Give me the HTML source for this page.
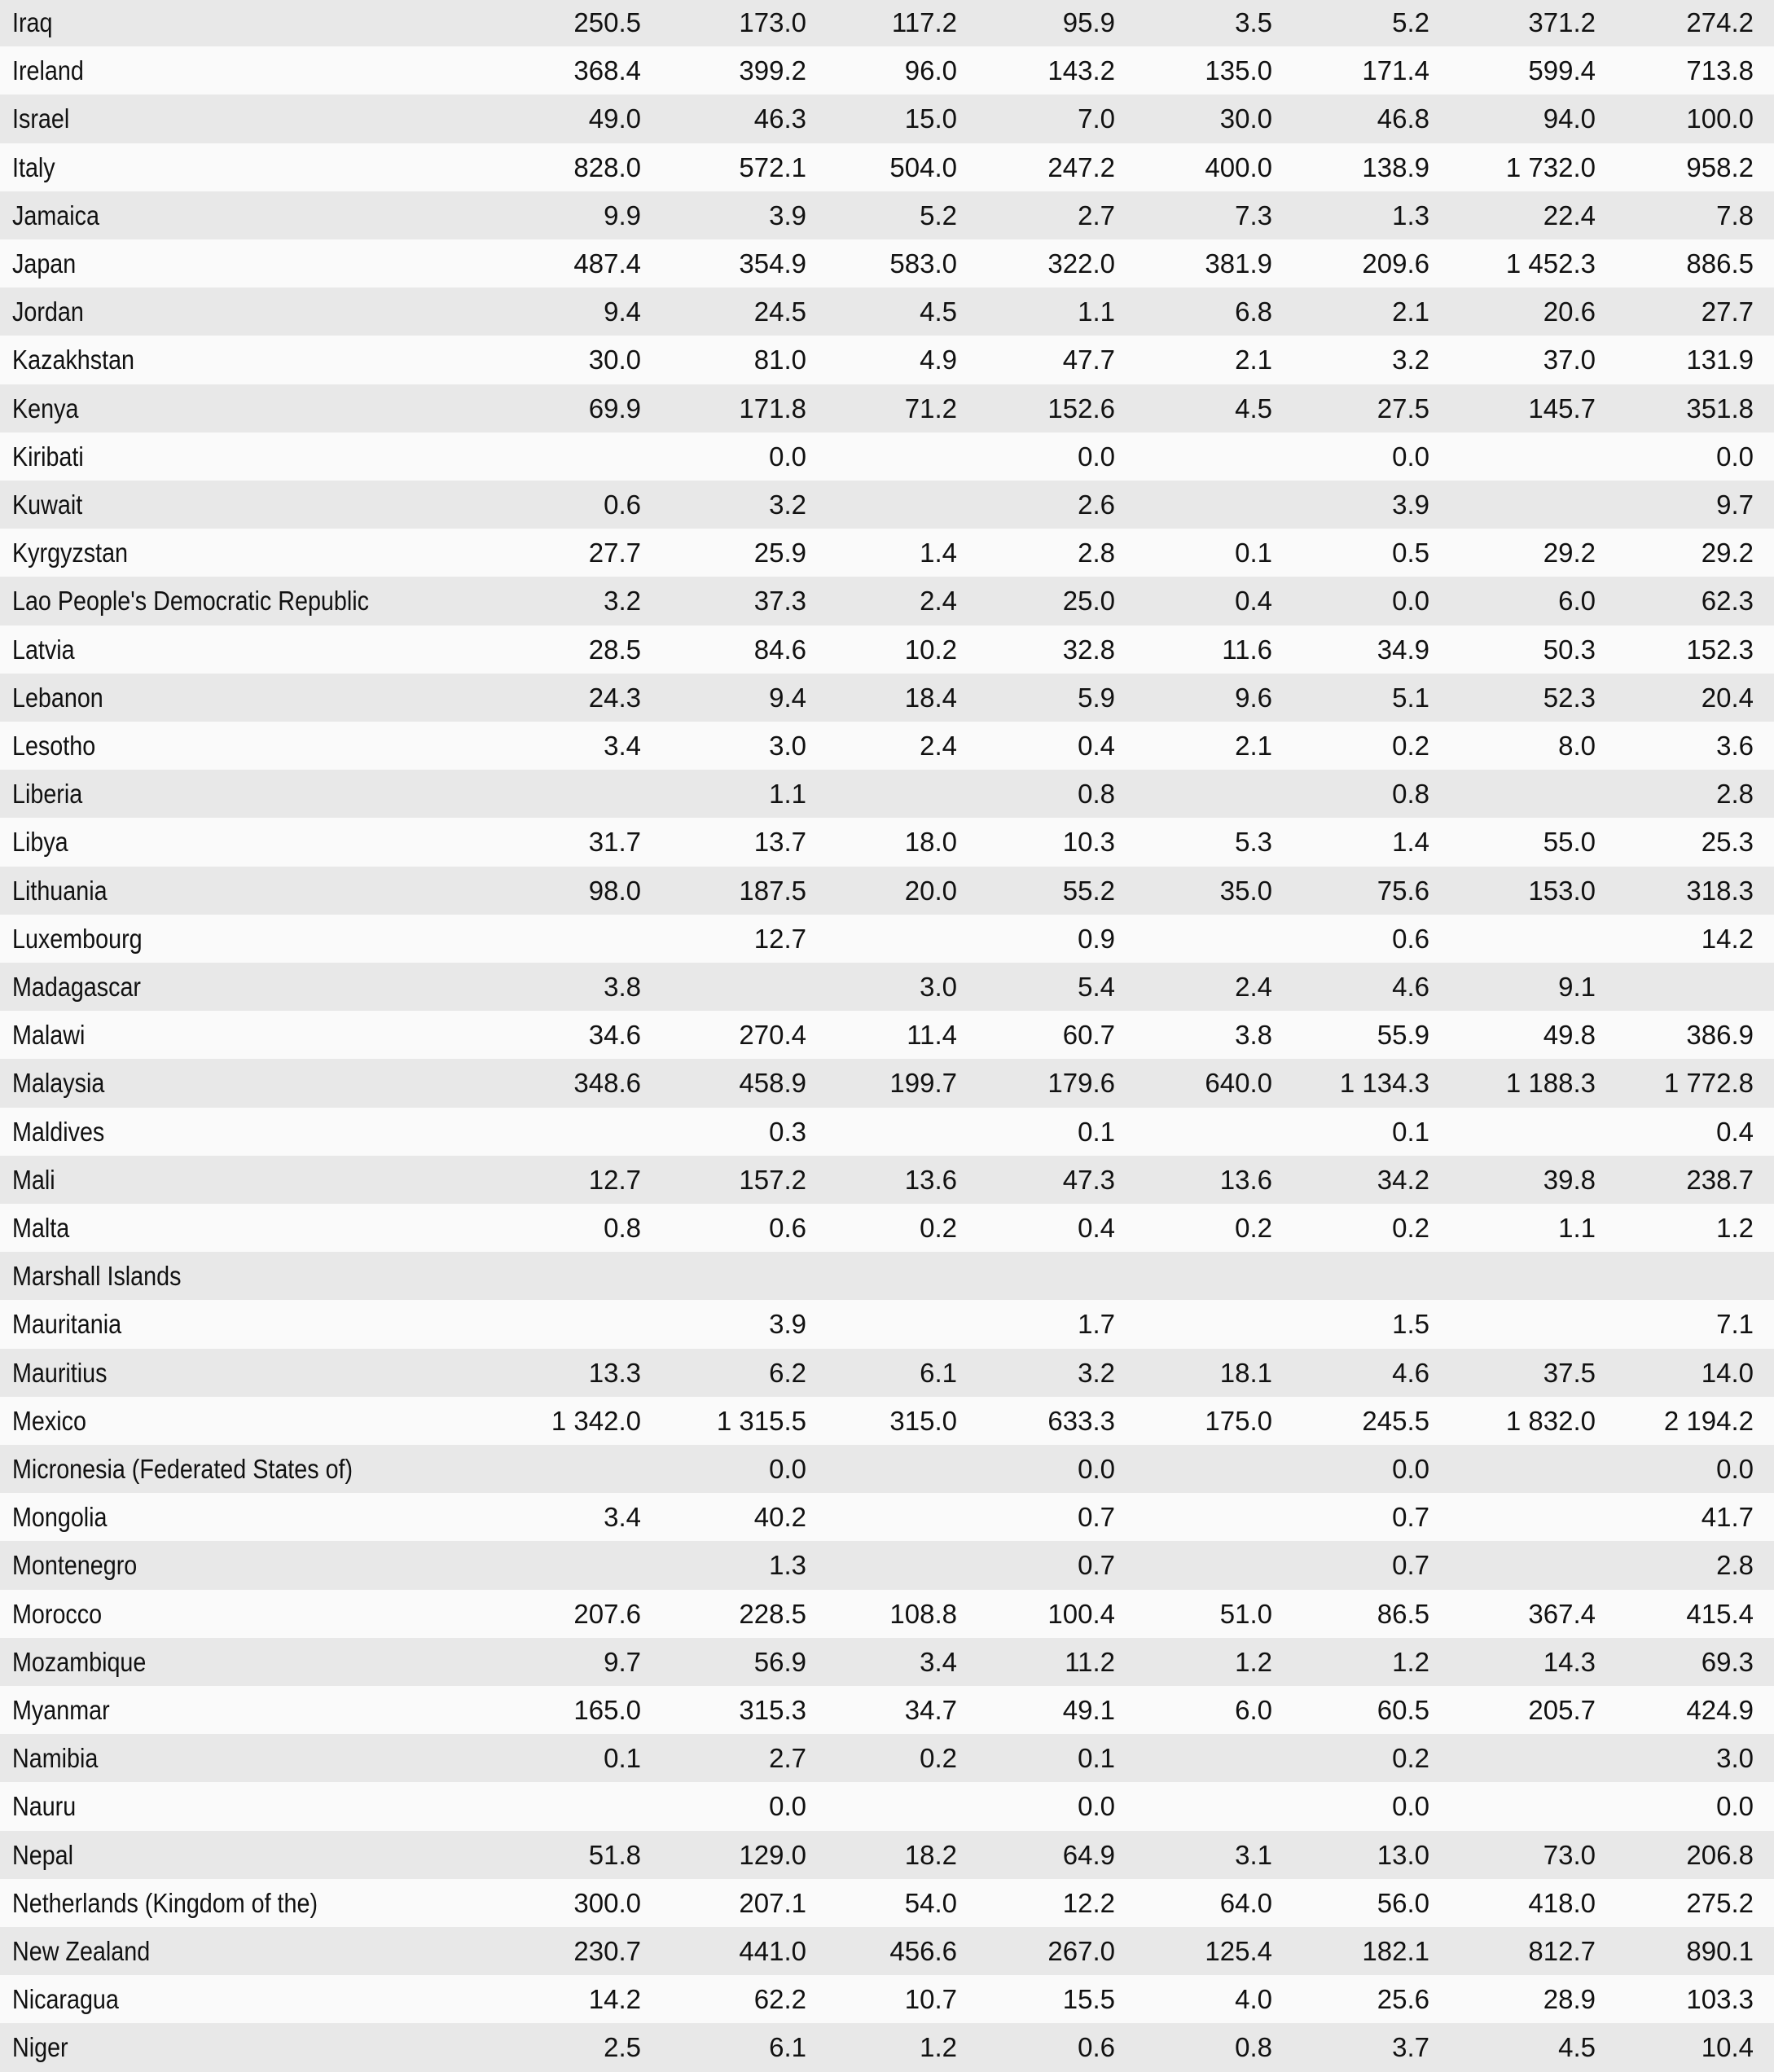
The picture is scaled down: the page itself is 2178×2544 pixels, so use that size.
<!DOCTYPE html>
<html><head><meta charset="utf-8"><style>
body{margin:0;width:2178px;height:2541px;overflow:hidden;background:#fafafa;font-family:"Liberation Sans",sans-serif;color:#111;position:relative}
.r{position:absolute;left:0;width:2178px;height:59.2px}
.g{background:#e8e8e8}
.r span{position:absolute;top:0;line-height:59.2px;font-size:33px;white-space:nowrap}
.l{left:15px;transform:scaleX(0.87);transform-origin:left center}
.n{text-align:right;width:300px}
</style></head><body>
<div id="t"></div>
<script>
const R=[
["Iraq","250.5","173.0","117.2","95.9","3.5","5.2","371.2","274.2"],
["Ireland","368.4","399.2","96.0","143.2","135.0","171.4","599.4","713.8"],
["Israel","49.0","46.3","15.0","7.0","30.0","46.8","94.0","100.0"],
["Italy","828.0","572.1","504.0","247.2","400.0","138.9","1 732.0","958.2"],
["Jamaica","9.9","3.9","5.2","2.7","7.3","1.3","22.4","7.8"],
["Japan","487.4","354.9","583.0","322.0","381.9","209.6","1 452.3","886.5"],
["Jordan","9.4","24.5","4.5","1.1","6.8","2.1","20.6","27.7"],
["Kazakhstan","30.0","81.0","4.9","47.7","2.1","3.2","37.0","131.9"],
["Kenya","69.9","171.8","71.2","152.6","4.5","27.5","145.7","351.8"],
["Kiribati","","0.0","","0.0","","0.0","","0.0"],
["Kuwait","0.6","3.2","","2.6","","3.9","","9.7"],
["Kyrgyzstan","27.7","25.9","1.4","2.8","0.1","0.5","29.2","29.2"],
["Lao People's Democratic Republic","3.2","37.3","2.4","25.0","0.4","0.0","6.0","62.3"],
["Latvia","28.5","84.6","10.2","32.8","11.6","34.9","50.3","152.3"],
["Lebanon","24.3","9.4","18.4","5.9","9.6","5.1","52.3","20.4"],
["Lesotho","3.4","3.0","2.4","0.4","2.1","0.2","8.0","3.6"],
["Liberia","","1.1","","0.8","","0.8","","2.8"],
["Libya","31.7","13.7","18.0","10.3","5.3","1.4","55.0","25.3"],
["Lithuania","98.0","187.5","20.0","55.2","35.0","75.6","153.0","318.3"],
["Luxembourg","","12.7","","0.9","","0.6","","14.2"],
["Madagascar","3.8","","3.0","5.4","2.4","4.6","9.1",""],
["Malawi","34.6","270.4","11.4","60.7","3.8","55.9","49.8","386.9"],
["Malaysia","348.6","458.9","199.7","179.6","640.0","1 134.3","1 188.3","1 772.8"],
["Maldives","","0.3","","0.1","","0.1","","0.4"],
["Mali","12.7","157.2","13.6","47.3","13.6","34.2","39.8","238.7"],
["Malta","0.8","0.6","0.2","0.4","0.2","0.2","1.1","1.2"],
["Marshall Islands","","","","","","","",""],
["Mauritania","","3.9","","1.7","","1.5","","7.1"],
["Mauritius","13.3","6.2","6.1","3.2","18.1","4.6","37.5","14.0"],
["Mexico","1 342.0","1 315.5","315.0","633.3","175.0","245.5","1 832.0","2 194.2"],
["Micronesia (Federated States of)","","0.0","","0.0","","0.0","","0.0"],
["Mongolia","3.4","40.2","","0.7","","0.7","","41.7"],
["Montenegro","","1.3","","0.7","","0.7","","2.8"],
["Morocco","207.6","228.5","108.8","100.4","51.0","86.5","367.4","415.4"],
["Mozambique","9.7","56.9","3.4","11.2","1.2","1.2","14.3","69.3"],
["Myanmar","165.0","315.3","34.7","49.1","6.0","60.5","205.7","424.9"],
["Namibia","0.1","2.7","0.2","0.1","","0.2","","3.0"],
["Nauru","","0.0","","0.0","","0.0","","0.0"],
["Nepal","51.8","129.0","18.2","64.9","3.1","13.0","73.0","206.8"],
["Netherlands (Kingdom of the)","300.0","207.1","54.0","12.2","64.0","56.0","418.0","275.2"],
["New Zealand","230.7","441.0","456.6","267.0","125.4","182.1","812.7","890.1"],
["Nicaragua","14.2","62.2","10.7","15.5","4.0","25.6","28.9","103.3"],
["Niger","2.5","6.1","1.2","0.6","0.8","3.7","4.5","10.4"]];
const X=[787,990,1175,1369,1562,1755,1959,2153];
let h="";
R.forEach((r,i)=>{
 h+=`<div class="r${i%2==0?' g':''}" style="top:${(-2+i*59.2).toFixed(1)}px"><span class="l">${r[0]}</span>`;
 for(let j=1;j<9;j++) if(r[j]) h+=`<span class="n" style="left:${X[j-1]-300}px">${r[j]}</span>`;
 h+="</div>";
});
document.getElementById("t").innerHTML=h;
</script>
</body></html>
